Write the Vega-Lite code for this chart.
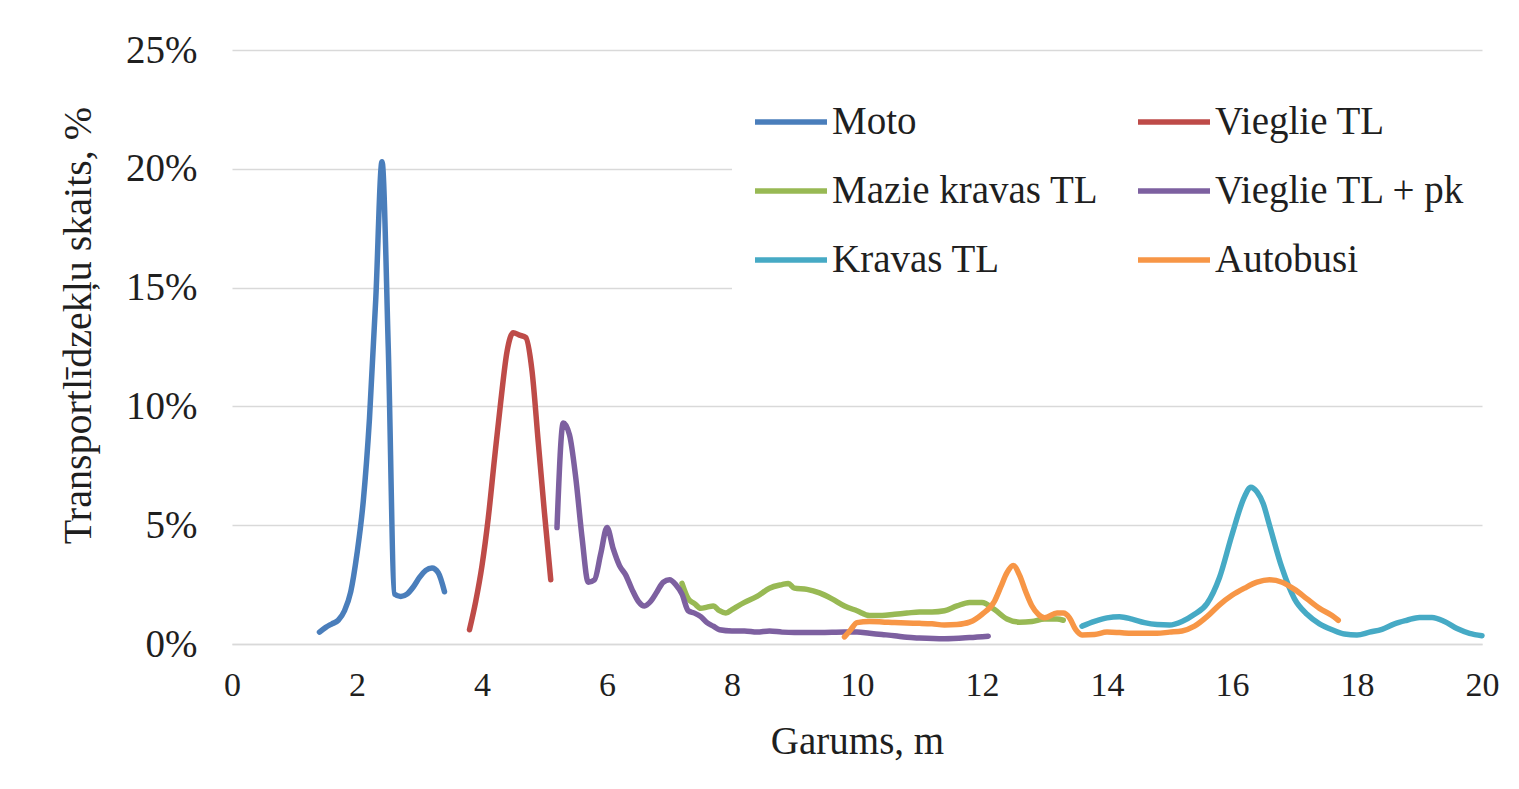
{
  "$schema": "https://vega.github.io/schema/vega-lite/v6.json",
  "width": 1250,
  "height": 594,
  "autosize": {"type": "none"},
  "padding": {"left": 232, "top": 50, "right": 37, "bottom": 145},
  "background": "white",
  "config": {
    "view": {"stroke": null},
    "font": "Liberation Serif"
  },
  "data": {"values": [
    {"s":"Moto","x":1.4,"y":0.5},{"s":"Moto","x":1.5,"y":0.7},{"s":"Moto","x":1.6,"y":0.85},{"s":"Moto","x":1.7,"y":1.0},{"s":"Moto","x":1.8,"y":1.4},{"s":"Moto","x":1.9,"y":2.2},{"s":"Moto","x":2.0,"y":3.8},{"s":"Moto","x":2.1,"y":6.0},{"s":"Moto","x":2.2,"y":9.5},{"s":"Moto","x":2.3,"y":14.5},{"s":"Moto","x":2.4,"y":20.3},{"s":"Moto","x":2.5,"y":12.5},{"s":"Moto","x":2.6,"y":2.1},{"s":"Moto","x":2.7,"y":2.0},{"s":"Moto","x":2.8,"y":2.1},{"s":"Moto","x":2.9,"y":2.4},{"s":"Moto","x":3.0,"y":2.8},{"s":"Moto","x":3.1,"y":3.1},{"s":"Moto","x":3.2,"y":3.2},{"s":"Moto","x":3.3,"y":3.0},{"s":"Moto","x":3.4,"y":2.2},
    {"s":"Vieglie TL","x":3.8,"y":0.6},{"s":"Vieglie TL","x":3.9,"y":1.8},{"s":"Vieglie TL","x":4.0,"y":3.3},{"s":"Vieglie TL","x":4.1,"y":5.3},{"s":"Vieglie TL","x":4.2,"y":7.8},{"s":"Vieglie TL","x":4.3,"y":10.2},{"s":"Vieglie TL","x":4.4,"y":12.3},{"s":"Vieglie TL","x":4.5,"y":13.1},{"s":"Vieglie TL","x":4.6,"y":13.0},{"s":"Vieglie TL","x":4.7,"y":12.9},{"s":"Vieglie TL","x":4.8,"y":11.5},{"s":"Vieglie TL","x":4.9,"y":8.5},{"s":"Vieglie TL","x":5.0,"y":5.5},{"s":"Vieglie TL","x":5.1,"y":2.7},
    {"s":"Mazie kravas TL","x":7.2,"y":2.55},{"s":"Mazie kravas TL","x":7.3,"y":1.9},{"s":"Mazie kravas TL","x":7.4,"y":1.7},{"s":"Mazie kravas TL","x":7.5,"y":1.5},{"s":"Mazie kravas TL","x":7.6,"y":1.55},{"s":"Mazie kravas TL","x":7.7,"y":1.6},{"s":"Mazie kravas TL","x":7.8,"y":1.4},{"s":"Mazie kravas TL","x":7.9,"y":1.3},{"s":"Mazie kravas TL","x":8.0,"y":1.45},{"s":"Mazie kravas TL","x":8.2,"y":1.75},{"s":"Mazie kravas TL","x":8.4,"y":2.0},{"s":"Mazie kravas TL","x":8.6,"y":2.35},{"s":"Mazie kravas TL","x":8.8,"y":2.5},{"s":"Mazie kravas TL","x":8.9,"y":2.55},{"s":"Mazie kravas TL","x":9.0,"y":2.35},{"s":"Mazie kravas TL","x":9.2,"y":2.3},{"s":"Mazie kravas TL","x":9.4,"y":2.15},{"s":"Mazie kravas TL","x":9.6,"y":1.9},{"s":"Mazie kravas TL","x":9.8,"y":1.6},{"s":"Mazie kravas TL","x":10.0,"y":1.4},{"s":"Mazie kravas TL","x":10.2,"y":1.2},{"s":"Mazie kravas TL","x":10.4,"y":1.2},{"s":"Mazie kravas TL","x":10.6,"y":1.25},{"s":"Mazie kravas TL","x":10.8,"y":1.3},{"s":"Mazie kravas TL","x":11.0,"y":1.35},{"s":"Mazie kravas TL","x":11.2,"y":1.35},{"s":"Mazie kravas TL","x":11.4,"y":1.4},{"s":"Mazie kravas TL","x":11.6,"y":1.6},{"s":"Mazie kravas TL","x":11.8,"y":1.75},{"s":"Mazie kravas TL","x":12.0,"y":1.75},{"s":"Mazie kravas TL","x":12.2,"y":1.45},{"s":"Mazie kravas TL","x":12.4,"y":1.05},{"s":"Mazie kravas TL","x":12.6,"y":0.92},{"s":"Mazie kravas TL","x":12.8,"y":0.95},{"s":"Mazie kravas TL","x":13.0,"y":1.05},{"s":"Mazie kravas TL","x":13.2,"y":1.05},{"s":"Mazie kravas TL","x":13.3,"y":1.0},
    {"s":"Vieglie TL + pk","x":5.2,"y":4.9},{"s":"Vieglie TL + pk","x":5.3,"y":9.3},{"s":"Vieglie TL + pk","x":5.4,"y":8.8},{"s":"Vieglie TL + pk","x":5.5,"y":7.0},{"s":"Vieglie TL + pk","x":5.6,"y":4.5},{"s":"Vieglie TL + pk","x":5.7,"y":2.6},{"s":"Vieglie TL + pk","x":5.8,"y":2.7},{"s":"Vieglie TL + pk","x":5.9,"y":3.8},{"s":"Vieglie TL + pk","x":6.0,"y":4.9},{"s":"Vieglie TL + pk","x":6.1,"y":4.0},{"s":"Vieglie TL + pk","x":6.2,"y":3.3},{"s":"Vieglie TL + pk","x":6.3,"y":2.9},{"s":"Vieglie TL + pk","x":6.4,"y":2.3},{"s":"Vieglie TL + pk","x":6.5,"y":1.8},{"s":"Vieglie TL + pk","x":6.6,"y":1.6},{"s":"Vieglie TL + pk","x":6.7,"y":1.8},{"s":"Vieglie TL + pk","x":6.8,"y":2.2},{"s":"Vieglie TL + pk","x":6.9,"y":2.6},{"s":"Vieglie TL + pk","x":7.0,"y":2.7},{"s":"Vieglie TL + pk","x":7.1,"y":2.5},{"s":"Vieglie TL + pk","x":7.2,"y":2.1},{"s":"Vieglie TL + pk","x":7.3,"y":1.4},{"s":"Vieglie TL + pk","x":7.4,"y":1.3},{"s":"Vieglie TL + pk","x":7.5,"y":1.15},{"s":"Vieglie TL + pk","x":7.6,"y":0.9},{"s":"Vieglie TL + pk","x":7.7,"y":0.75},{"s":"Vieglie TL + pk","x":7.8,"y":0.6},{"s":"Vieglie TL + pk","x":8.0,"y":0.55},{"s":"Vieglie TL + pk","x":8.2,"y":0.55},{"s":"Vieglie TL + pk","x":8.4,"y":0.5},{"s":"Vieglie TL + pk","x":8.6,"y":0.55},{"s":"Vieglie TL + pk","x":8.8,"y":0.5},{"s":"Vieglie TL + pk","x":9.0,"y":0.48},{"s":"Vieglie TL + pk","x":9.4,"y":0.48},{"s":"Vieglie TL + pk","x":9.8,"y":0.5},{"s":"Vieglie TL + pk","x":10.0,"y":0.5},{"s":"Vieglie TL + pk","x":10.2,"y":0.45},{"s":"Vieglie TL + pk","x":10.4,"y":0.4},{"s":"Vieglie TL + pk","x":10.6,"y":0.35},{"s":"Vieglie TL + pk","x":10.8,"y":0.28},{"s":"Vieglie TL + pk","x":11.0,"y":0.25},{"s":"Vieglie TL + pk","x":11.4,"y":0.22},{"s":"Vieglie TL + pk","x":11.8,"y":0.27},{"s":"Vieglie TL + pk","x":12.1,"y":0.33},
    {"s":"Kravas TL","x":13.6,"y":0.75},{"s":"Kravas TL","x":13.8,"y":0.95},{"s":"Kravas TL","x":14.0,"y":1.1},{"s":"Kravas TL","x":14.2,"y":1.15},{"s":"Kravas TL","x":14.4,"y":1.05},{"s":"Kravas TL","x":14.6,"y":0.9},{"s":"Kravas TL","x":14.8,"y":0.82},{"s":"Kravas TL","x":15.0,"y":0.8},{"s":"Kravas TL","x":15.2,"y":0.95},{"s":"Kravas TL","x":15.4,"y":1.25},{"s":"Kravas TL","x":15.6,"y":1.7},{"s":"Kravas TL","x":15.8,"y":2.8},{"s":"Kravas TL","x":16.0,"y":4.6},{"s":"Kravas TL","x":16.2,"y":6.2},{"s":"Kravas TL","x":16.3,"y":6.6},{"s":"Kravas TL","x":16.4,"y":6.4},{"s":"Kravas TL","x":16.5,"y":5.9},{"s":"Kravas TL","x":16.6,"y":5.0},{"s":"Kravas TL","x":16.8,"y":3.2},{"s":"Kravas TL","x":17.0,"y":1.9},{"s":"Kravas TL","x":17.2,"y":1.25},{"s":"Kravas TL","x":17.4,"y":0.85},{"s":"Kravas TL","x":17.6,"y":0.6},{"s":"Kravas TL","x":17.8,"y":0.42},{"s":"Kravas TL","x":18.0,"y":0.38},{"s":"Kravas TL","x":18.2,"y":0.5},{"s":"Kravas TL","x":18.4,"y":0.62},{"s":"Kravas TL","x":18.6,"y":0.85},{"s":"Kravas TL","x":18.8,"y":1.0},{"s":"Kravas TL","x":19.0,"y":1.12},{"s":"Kravas TL","x":19.2,"y":1.12},{"s":"Kravas TL","x":19.4,"y":0.95},{"s":"Kravas TL","x":19.6,"y":0.65},{"s":"Kravas TL","x":19.8,"y":0.45},{"s":"Kravas TL","x":20.0,"y":0.35},
    {"s":"Autobusi","x":9.8,"y":0.3},{"s":"Autobusi","x":9.9,"y":0.6},{"s":"Autobusi","x":10.0,"y":0.9},{"s":"Autobusi","x":10.2,"y":0.95},{"s":"Autobusi","x":10.4,"y":0.93},{"s":"Autobusi","x":10.6,"y":0.9},{"s":"Autobusi","x":10.8,"y":0.88},{"s":"Autobusi","x":11.0,"y":0.87},{"s":"Autobusi","x":11.2,"y":0.85},{"s":"Autobusi","x":11.4,"y":0.8},{"s":"Autobusi","x":11.6,"y":0.82},{"s":"Autobusi","x":11.8,"y":0.92},{"s":"Autobusi","x":12.0,"y":1.25},{"s":"Autobusi","x":12.2,"y":1.8},{"s":"Autobusi","x":12.3,"y":2.4},{"s":"Autobusi","x":12.4,"y":3.0},{"s":"Autobusi","x":12.5,"y":3.3},{"s":"Autobusi","x":12.6,"y":2.9},{"s":"Autobusi","x":12.7,"y":2.2},{"s":"Autobusi","x":12.8,"y":1.6},{"s":"Autobusi","x":12.9,"y":1.25},{"s":"Autobusi","x":13.0,"y":1.1},{"s":"Autobusi","x":13.2,"y":1.3},{"s":"Autobusi","x":13.3,"y":1.3},{"s":"Autobusi","x":13.4,"y":1.1},{"s":"Autobusi","x":13.5,"y":0.6},{"s":"Autobusi","x":13.6,"y":0.38},{"s":"Autobusi","x":13.8,"y":0.4},{"s":"Autobusi","x":14.0,"y":0.5},{"s":"Autobusi","x":14.2,"y":0.48},{"s":"Autobusi","x":14.4,"y":0.45},{"s":"Autobusi","x":14.6,"y":0.45},{"s":"Autobusi","x":14.8,"y":0.45},{"s":"Autobusi","x":15.0,"y":0.5},{"s":"Autobusi","x":15.2,"y":0.55},{"s":"Autobusi","x":15.4,"y":0.75},{"s":"Autobusi","x":15.6,"y":1.15},{"s":"Autobusi","x":15.8,"y":1.65},{"s":"Autobusi","x":16.0,"y":2.05},{"s":"Autobusi","x":16.2,"y":2.35},{"s":"Autobusi","x":16.4,"y":2.6},{"s":"Autobusi","x":16.6,"y":2.7},{"s":"Autobusi","x":16.8,"y":2.6},{"s":"Autobusi","x":17.0,"y":2.3},{"s":"Autobusi","x":17.2,"y":1.9},{"s":"Autobusi","x":17.4,"y":1.5},{"s":"Autobusi","x":17.6,"y":1.2},{"s":"Autobusi","x":17.7,"y":1.0}
  ]},
  "mark": {"type": "line", "strokeWidth": 5.5, "interpolate": "monotone", "strokeCap": "round", "strokeJoin": "round"},
  "encoding": {
    "x": {
      "field": "x", "type": "quantitative",
      "scale": {"domain": [0, 20], "nice": false},
      "axis": {
        "values": [0, 2, 4, 6, 8, 10, 12, 14, 16, 18, 20],
        "title": "Garums, m",
        "grid": false, "ticks": false,
        "domain": true, "domainColor": "#D9D9D9", "domainWidth": 1.5,
        "labelFont": "Liberation Serif", "labelFontSize": 34, "labelColor": "#1f1f1f",
        "labelPadding": 24, "labelFlush": false,
        "titleFont": "Liberation Serif", "titleFontSize": 39, "titleFontWeight": "normal", "titleColor": "#1f1f1f",
        "titleY": 78, "titleBaseline": "top"
      }
    },
    "y": {
      "field": "y", "type": "quantitative",
      "scale": {"domain": [0, 25], "nice": false},
      "axis": {
        "values": [0, 5, 10, 15, 20, 25],
        "labelExpr": "datum.value + '%'",
        "title": "Transportlīdzekļu skaits, %",
        "grid": true, "gridColor": "#D9D9D9", "gridWidth": 1.5,
        "ticks": false, "domain": false,
        "labelFont": "Liberation Serif", "labelFontSize": 39, "labelColor": "#1f1f1f",
        "labelPadding": 35, "labelFlush": false,
        "titleFont": "Liberation Serif", "titleFontSize": 40, "titleFontWeight": "normal", "titleColor": "#1f1f1f",
        "titleX": -134, "titleY": 275, "titleAlign": "center", "titleAngle": -90, "titleBaseline": "bottom"
      }
    },
    "color": {
      "field": "s", "type": "nominal",
      "scale": {
        "domain": ["Moto", "Mazie kravas TL", "Kravas TL", "Vieglie TL", "Vieglie TL + pk", "Autobusi"],
        "range": ["#4A7EBB", "#98B954", "#46AAC5", "#BE4B48", "#7D60A0", "#F79646"]
      },
      "legend": {
        "title": null,
        "orient": "none", "legendX": 500, "legendY": 13,
        "columns": 2, "padding": 20, "fillColor": "white",
        "symbolType": "stroke", "symbolSize": 5184, "symbolStrokeWidth": 5.5,
        "labelFont": "Liberation Serif", "labelFontSize": 39, "labelColor": "#1f1f1f",
        "labelOffset": 2, "labelLimit": 0,
        "columnPadding": 28, "rowPadding": 10
      }
    }
  }
}
